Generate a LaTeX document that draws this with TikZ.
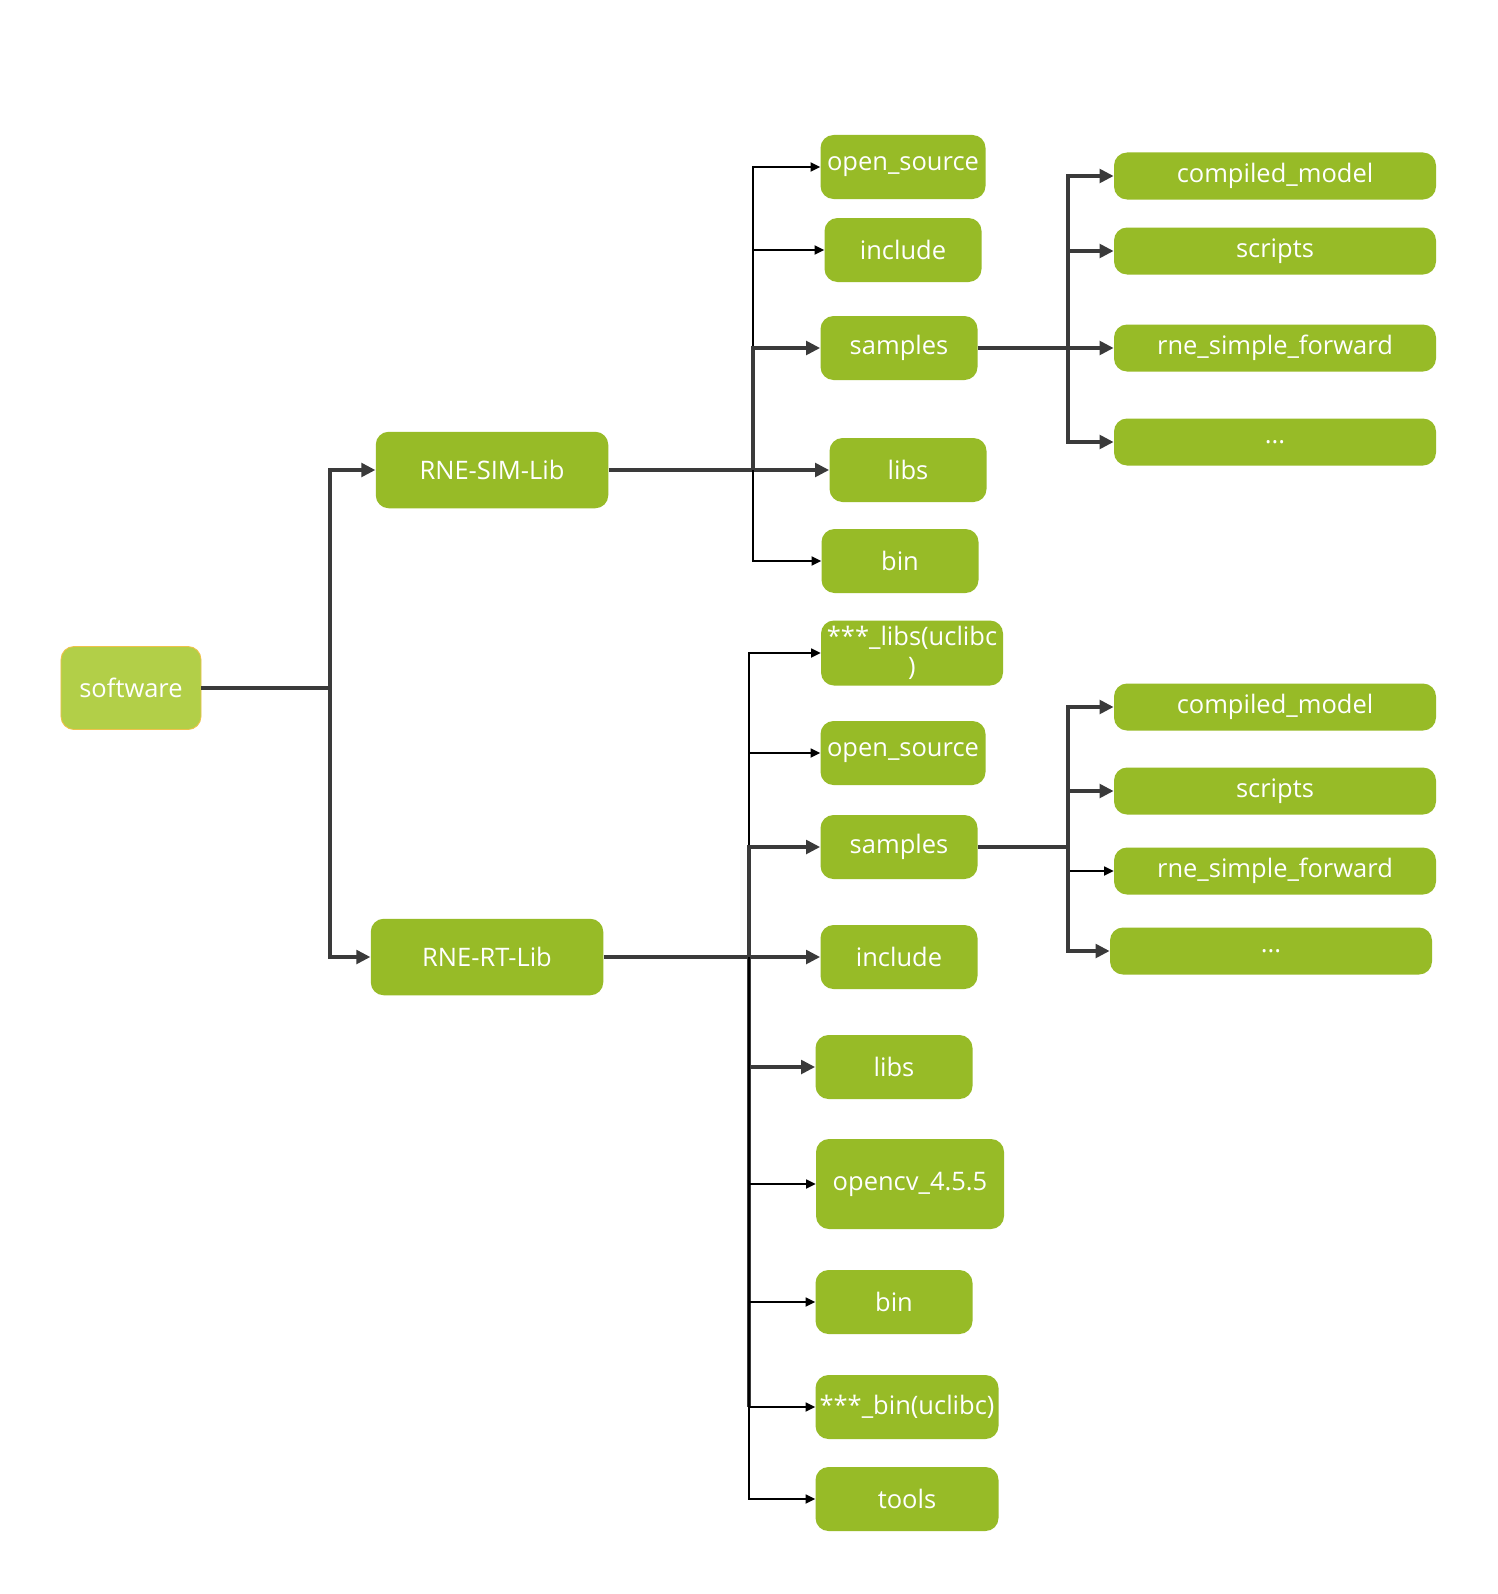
\documentclass[tikz,border=0pt]{standalone}
\usepackage{fontspec}
\setmainfont{Open Sans}
\usepackage{tikz}
\usetikzlibrary{arrows.meta,positioning}
\definecolor{dirgreen}{HTML}{97BB27}
\definecolor{rootgreen}{HTML}{B2CF48}
\definecolor{rootedge}{HTML}{EFC24A}
\definecolor{linkgray}{HTML}{3A3A3A}

\begin{document}
\begin{tikzpicture}[x=0.2mm,y=-0.2mm,line cap=butt,line join=miter,
  font=\fontsize{14.5}{17}\selectfont,text=white,
  box/.style={fill=dirgreen,rounded corners=2.6mm,align=center,inner sep=0pt,minimum height=12.8mm,minimum width=31.4mm},
  root/.style={box,fill=rootgreen,draw=rootedge,line width=.5pt,minimum width=28mm,minimum height=16.6mm},
  lib/.style={box,minimum width=46.5mm,minimum height=15.3mm},
  wide/.style={box,minimum width=64.4mm,minimum height=9.4mm},
  arr/.style={-{Triangle[length=2.8mm,width=2.7mm]},linkgray,line width=2pt},
  arrthin/.style={-{Triangle[length=1.9mm,width=1.8mm]},black,line width=1pt},
  link/.style={linkgray,line width=2pt}]
\path[use as bounding box] (0,0) rectangle (1497,1594);
\fill[white] (0,0) rectangle (1497,1594);
% top level
\node[root] (soft) at (131,688) {software};
\node[lib] (sim) at (492,470) {RNE-SIM-Lib};
\node[lib] (rt) at (487,957) {RNE-RT-Lib};
\coordinate (trunk) at (330,688);
\draw[link] (soft.east)--(trunk);
\draw[arr] (trunk)|-(sim.west);
\draw[arr] (trunk)|-(rt.west);
% RNE-SIM-Lib
\node[box,minimum width=33mm] (sopen) at (903,167) {open\_source};
\node[box] (sinc) at (903,250) {include};
\node[box] (ssam) at (899,348) {samples};
\node[box] (slib) at (908,470) {libs};
\node[box] (sbin) at (900,561) {bin};
\coordinate (simbar) at (753,470);
\draw[link] (sim.east)--(simbar);
\draw[arrthin] (simbar)|-(sopen.west);
\draw[arrthin] (simbar)|-(sinc.west);
\draw[arr] (simbar)|-(ssam.west);
\draw[arr] (simbar)--(slib.west);
\draw[arrthin] (simbar)|-(sbin.west);
\node[wide] (scomp) at (1275,176) {compiled\_model};
\node[wide] (sscr) at (1275,251) {scripts};
\node[wide] (sfwd) at (1275,348) {rne\_simple\_forward};
\node[wide] (setc) at (1275,442) {...};
\coordinate (ssambar) at (1068,348);
\draw[link] (ssam.east)--(ssambar);
\draw[arr] (ssambar)|-(scomp.west);
\draw[arr] (ssambar)|-(sscr.west);
\draw[arr] (ssambar)--(sfwd.west);
\draw[arr] (ssambar)|-(setc.west);
% RNE-RT-Lib
\node[box,minimum width=36.4mm,minimum height=13mm] (rlibu) at (912,653) {***\_libs(uclibc\\)};
\node[box,minimum width=33mm] (ropen) at (903,753) {open\_source};
\node[box] (rsam) at (899,847) {samples};
\node[box] (rinc) at (899,957) {include};
\node[box] (rlib) at (894,1067) {libs};
\node[box,minimum width=37.6mm,minimum height=18mm] (rcv) at (910,1184) {opencv\_4.5.5};
\node[box] (rbin) at (894,1302) {bin};
\node[box,minimum width=36.6mm] (rbinu) at (907,1407) {***\_bin(uclibc)};
\node[box,minimum width=36.6mm] (rtool) at (907,1499) {tools};
\coordinate (rtbar) at (749,957);
\draw[link] (rt.east)--(rtbar);
\draw[link] (rtbar)--(rtbar|-rbinu.west);
\draw[arrthin] (rtbar)|-(rlibu.west);
\draw[arrthin] (rtbar)|-(ropen.west);
\draw[arr] (rtbar)|-(rsam.west);
\draw[arr] (rtbar)--(rinc.west);
\draw[arr] (rtbar)|-(rlib.west);
\draw[arrthin] (rtbar)|-(rcv.west);
\draw[arrthin] (rtbar)|-(rbin.west);
\draw[arrthin] (rtbar)|-(rbinu.west);
\draw[arrthin] (rtbar)|-(rtool.west);
\node[wide] (rcomp) at (1275,707) {compiled\_model};
\node[wide] (rscr) at (1275,791) {scripts};
\node[wide] (rfwd) at (1275,871) {rne\_simple\_forward};
\node[wide] (retc) at (1271,951) {...};
\coordinate (rsambar) at (1068,847);
\draw[link] (rsam.east)--(rsambar);
\draw[arr] (rsambar)|-(rcomp.west);
\draw[arr] (rsambar)|-(rscr.west);
\draw[arrthin] (rsambar)|-(rfwd.west);
\draw[arr] (rsambar)|-(retc.west);
\end{tikzpicture}
\end{document}
